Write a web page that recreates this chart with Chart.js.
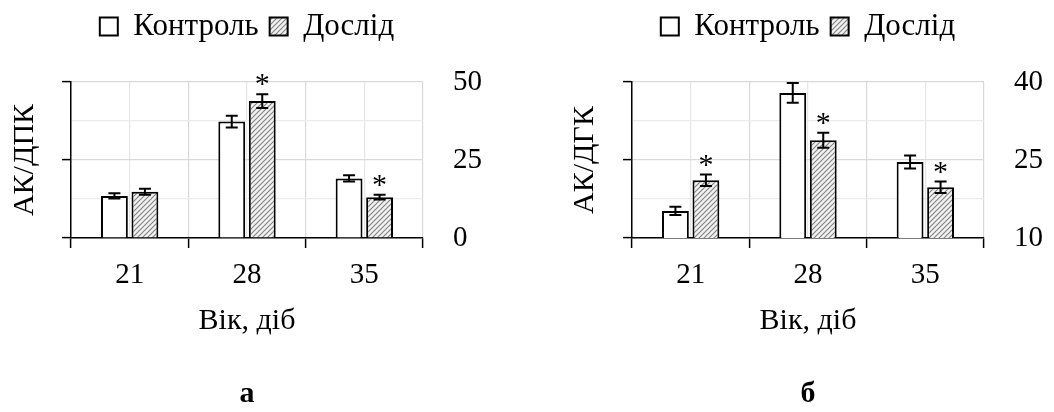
<!DOCTYPE html>
<html>
<head>
<meta charset="utf-8">
<script src="https://cdn.jsdelivr.net/npm/chart.js@4.4.1/dist/chart.umd.min.js"></script>
<style>
  body { margin: 0; background: #fff; }
  #wrap { width: 1054px; height: 412px; position: relative; }
  canvas { position: absolute; top: 0; }
  #chartA { left: 0; }
  #chartB { left: 527px; }
</style>
</head>
<body>
<div id="wrap">
  <canvas id="chartA" width="527" height="412"></canvas>
  <canvas id="chartB" width="527" height="412"></canvas>
</div>
<script>
// вік птиці, діб
const categories = ['21', '28', '35'];

// а: АК/ДПК
const controlA = [13.5, 37.3, 19.1];
const controlAErr = [0.85, 1.85, 1.0];
const doslidA = [14.8, 43.9, 13.1];
const doslidAErr = [0.95, 2.2, 0.8];
const starsA = [false, true, true];
const ticksA = [0, 25, 50];

// б: АК/ДГК
const controlB = [15.2, 37.9, 24.6];
const controlBErr = [0.8, 1.9, 1.25];
const doslidB = [21.1, 28.8, 19.75];
const doslidBErr = [1.1, 1.45, 1.1];
const starsB = [true, true, true];
const ticksB = [10, 25, 40];

const FONT = '"Liberation Serif", "Times New Roman", serif';

function makeHatch() {
    const c = document.createElement('canvas');
    c.width = 5; c.height = 5;
    const g = c.getContext('2d');
    g.fillStyle = '#f2f2f2';
    g.fillRect(0, 0, 5, 5);
    g.strokeStyle = '#858585';
    g.lineWidth = 1.2;
    g.beginPath();
    g.moveTo(-1, 6); g.lineTo(6, -1);
    g.moveTo(-1, 1); g.lineTo(1, -1);
    g.moveTo(4, 6); g.lineTo(6, 4);
    g.stroke();
    return g.createPattern(c, 'repeat');
}
const hatch = makeHatch();

// планки похибок та зірочки над дослідними стовпчиками
const errorBars = {
    id: 'errorBars',
    afterDatasetsDraw(chart) {
        const ctx = chart.ctx;
        const y = chart.scales.y;
        ctx.save();
        ctx.strokeStyle = '#000';
        ctx.lineWidth = 2;
        chart.data.datasets.forEach((ds, i) => {
            chart.getDatasetMeta(i).data.forEach((bar, j) => {
                const top = y.getPixelForValue(ds.data[j] + ds.errors[j]);
                const bot = y.getPixelForValue(ds.data[j] - ds.errors[j]);
                ctx.beginPath();
                ctx.moveTo(bar.x, top); ctx.lineTo(bar.x, bot);
                ctx.moveTo(bar.x - 6, top); ctx.lineTo(bar.x + 6, top);
                ctx.moveTo(bar.x - 6, bot); ctx.lineTo(bar.x + 6, bot);
                ctx.stroke();
                if (ds.stars && ds.stars[j]) {
                    ctx.fillStyle = '#000';
                    ctx.font = '30px ' + FONT;
                    ctx.textAlign = 'center';
                    ctx.textBaseline = 'alphabetic';
                    ctx.fillText('*', bar.x, top - 1);
                }
            });
        });
        ctx.restore();
    }
};

function buildChart(id, cfg) {
    const major = cfg.ticks;
    const step = (major[1] - major[0]) / 2;
    return new Chart(document.getElementById(id), {
        type: 'bar',
        data: {
            labels: categories,
            datasets: [{
                label: 'Контроль',
                data: cfg.control,
                errors: cfg.controlErr,
                backgroundColor: '#fff',
                borderColor: '#000',
                borderWidth: 2,
                barPercentage: 0.88,
                categoryPercentage: 0.52
            }, {
                label: 'Дослід',
                data: cfg.doslid,
                errors: cfg.doslidErr,
                stars: cfg.stars,
                backgroundColor: hatch,
                borderColor: '#000',
                borderWidth: 2,
                barPercentage: 0.88,
                categoryPercentage: 0.52
            }]
        },
        options: {
            responsive: false,
            animation: false,
            devicePixelRatio: 1,
            layout: { padding: 0 },
            plugins: {
                legend: {
                    position: 'top',
                    fullSize: false,
                    labels: {
                        boxWidth: 18,
                        boxHeight: 18,
                        padding: 11,
                        color: '#000',
                        font: { family: FONT, size: 31 }
                    }
                },
                subtitle: {
                    display: true,
                    position: 'bottom',
                    fullSize: false,
                    text: cfg.letter,
                    color: '#000',
                    font: { family: FONT, size: 30, weight: 'bold' },
                    padding: { top: 37, bottom: 0 }
                },
                tooltip: { enabled: false }
            },
            scales: {
                x: {
                    type: 'category',
                    offset: true,
                    grid: {
                        offset: true,
                        color: '#d9d9d9',
                        tickColor: '#000',
                        tickLength: 10,
                        lineWidth: 1.2,
                        tickWidth: 1.5
                    },
                    border: { color: '#000', width: 1.5 },
                    ticks: { color: '#000', padding: 10, font: { family: FONT, size: 29 } },
                    title: {
                        display: true,
                        text: 'Вік, діб',
                        color: '#000',
                        padding: 0,
                        font: { family: FONT, size: 30 }
                    },
                    afterFit: s => { s.height = 101; }
                },
                x2: {
                    type: 'category',
                    position: 'top',
                    offset: true,
                    grid: { offset: false, color: '#e6e6e6', drawTicks: false, lineWidth: 1.2 },
                    border: { display: false },
                    ticks: { display: false },
                    afterFit: s => { s.height = 30; }
                },
                y: {
                    position: 'left',
                    min: major[0],
                    max: major[2],
                    ticks: { display: false, stepSize: step },
                    grid: {
                        lineWidth: 1.2,
                        color: c => ((c.tick.value - major[0]) % (2 * step) === 0 ? '#d9d9d9' : '#ebebeb'),
                        tickColor: c => ((c.tick.value - major[0]) % (2 * step) === 0 ? '#000' : 'rgba(0,0,0,0)'),
                        tickLength: 9,
                        tickWidth: 1.5
                    },
                    border: { color: '#000', width: 1.5 },
                    title: {
                        display: true,
                        text: cfg.yTitle,
                        color: '#000',
                        padding: { top: cfg.titlePad, bottom: 0 },
                        font: { family: FONT, size: 30 }
                    },
                    afterFit: s => { s.width = cfg.left; }
                },
                y2: {
                    position: 'right',
                    min: major[0],
                    max: major[2],
                    afterBuildTicks: s => { s.ticks = major.map(v => ({ value: v })); },
                    grid: { display: false, drawTicks: false },
                    border: { display: false },
                    ticks: { color: '#000', padding: 30, font: { family: FONT, size: 29 } },
                    afterFit: s => { s.width = cfg.right; }
                }
            }
        },
        plugins: [errorBars]
    });
}

buildChart('chartA', {
    control: controlA, controlErr: controlAErr,
    doslid: doslidA, doslidErr: doslidAErr, stars: starsA,
    ticks: ticksA, yTitle: 'АК/ДПК', letter: 'а',
    left: 71, right: 104, titlePad: 7
});

buildChart('chartB', {
    control: controlB, controlErr: controlBErr,
    doslid: doslidB, doslidErr: doslidBErr, stars: starsB,
    ticks: ticksB, yTitle: 'АК/ДГК', letter: 'б',
    left: 105, right: 70, titlePad: 40
});
</script>
</body>
</html>
